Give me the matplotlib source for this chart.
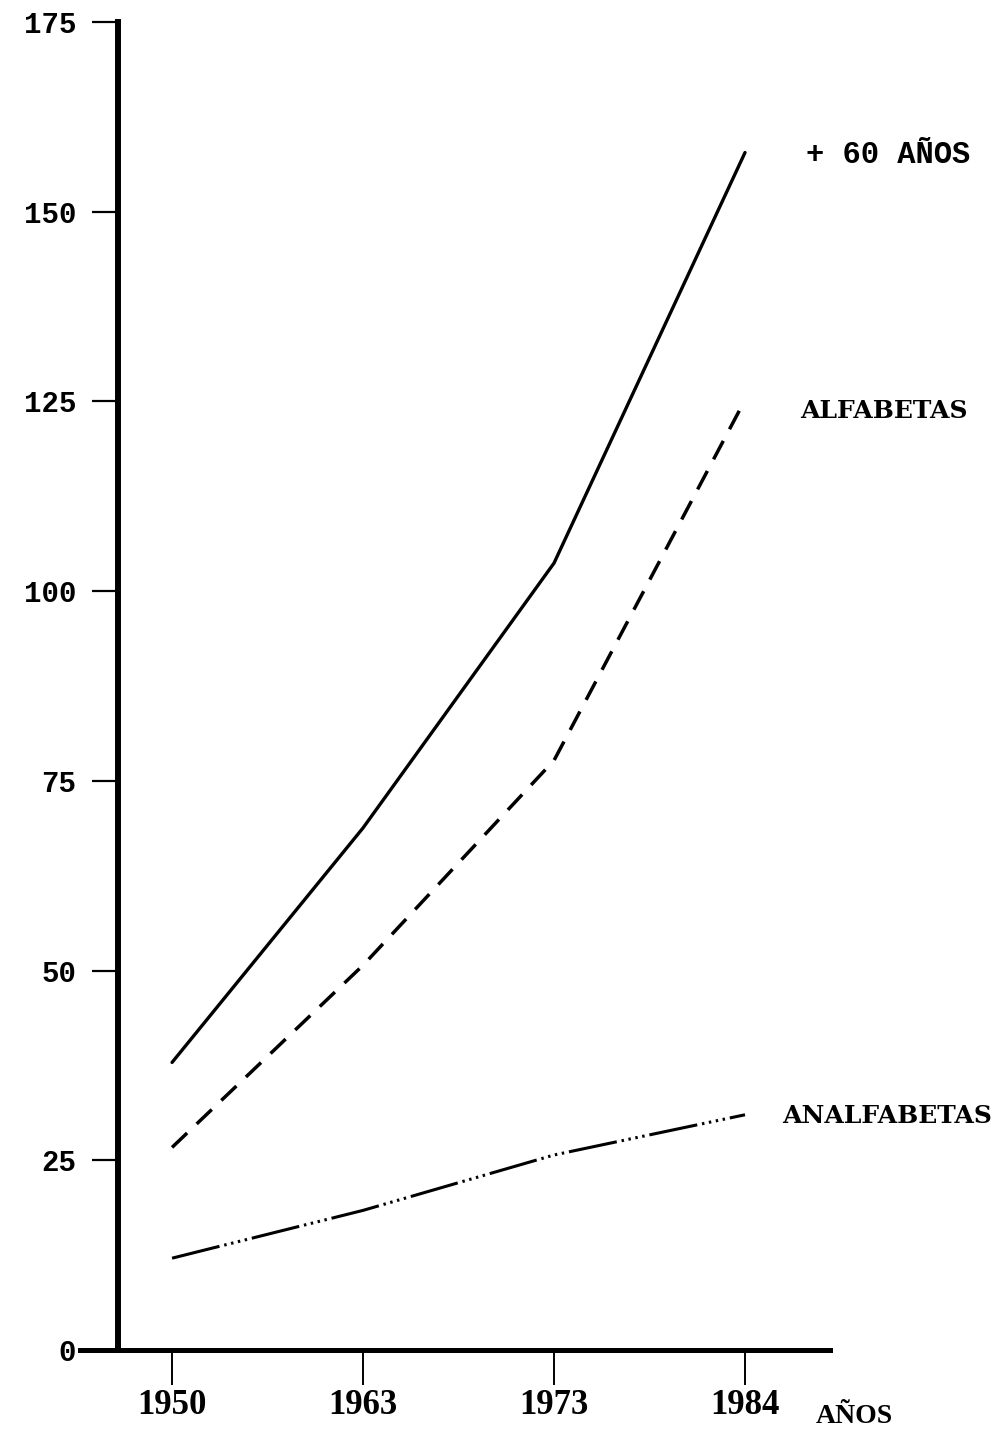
import matplotlib.pyplot as plt

years = ["1950", "1963", "1973", "1984"]
mayores_60 = [37.9, 68.8, 103.7, 157.8]
alfabetas = [26.7, 50.7, 77.7, 125.2]
analfabetas = [12.1, 18.4, 25.7, 31.0]
y_ticks = [0, 25, 50, 75, 100, 125, 150, 175]

fig = plt.figure(figsize=(10, 14.31), dpi=100)
ax = fig.add_axes([0.080, 0.0566, 0.75, 0.928])

x = list(range(len(years)))
ax.plot(x, mayores_60, color="black", linewidth=2.4, solid_capstyle="round")
ax.plot(x, alfabetas, color="black", linewidth=2.5, linestyle=(0, (6, 3.8)))
ax.plot(x, analfabetas, color="black", linewidth=2.2,
        linestyle=(0, (16, 1.6, 0.8, 1.5, 0.8, 1.5, 0.8, 1.5, 0.8, 1.6)))

ax.set_xlim(-0.482, 3.445)
ax.set_ylim(0, 175)

for s in ["top", "right"]:
    ax.spines[s].set_visible(False)
ax.spines["left"].set_position(("data", -0.283))
ax.spines["left"].set_linewidth(4.3)
ax.spines["bottom"].set_linewidth(3.6)

ax.set_yticks(y_ticks)
ax.set_yticklabels([str(v) for v in y_ticks], family="Liberation Mono",
                   fontweight="bold", fontsize=21)
ax.tick_params(axis="y", length=19, width=1.6, pad=11)

ax.set_xticks(x)
ax.set_xticklabels(years, family="Liberation Serif", fontweight="bold", fontsize=25)
ax.tick_params(axis="x", length=25, width=1.4, pad=3)

ax.text(3.37, -0.05, "AÑOS", transform=ax.get_xaxis_transform(),
        family="Liberation Serif", fontweight="bold", fontsize=20,
        ha="left", va="center")

ax.text(0.968, 157.5, "+ 60 AÑOS", transform=ax.get_yaxis_transform(),
        family="Liberation Mono", fontweight="bold", fontsize=22,
        ha="left", va="center")
ax.text(0.96, 123.8, "ALFABETAS", transform=ax.get_yaxis_transform(),
        family="DejaVu Serif", fontweight="bold", fontsize=18,
        ha="left", va="center")
ax.text(0.936, 30.8, "ANALFABETAS", transform=ax.get_yaxis_transform(),
        family="DejaVu Serif", fontweight="bold", fontsize=18,
        ha="left", va="center")

fig.savefig("out.png", dpi=100)
